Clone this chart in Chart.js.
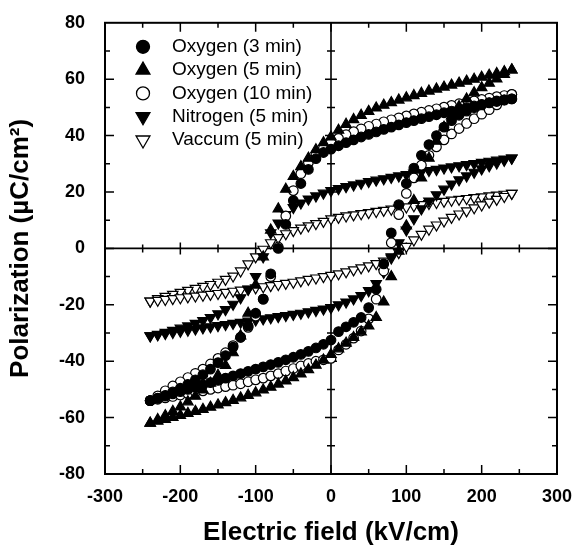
<!DOCTYPE html>
<html>
<head>
<meta charset="utf-8">
<script src="https://cdn.jsdelivr.net/npm/chart.js@4.4.1/dist/chart.umd.min.js"></script>
<style>
  html, body { margin: 0; padding: 0; background: #fff; }
  #wrap { width: 581px; height: 551px; }
</style>
</head>
<body>
<div id="wrap"><canvas id="loopChart" width="581" height="551"></canvas></div>
<script>
// ===== Data: P-E hysteresis loops =====
// field values along the descending branch (+Emax -> -Emax)
const fieldDown = [
  240, 230, 220, 210, 200, 190, 180, 170, 160, 150, 140, 130, 120, 110, 100, 90, 80, 70, 60, 50, 40, 30, 20, 10,
  0, -10, -20, -30, -40, -50, -60, -70, -80, -90, -100, -110, -120, -130, -140, -150, -160, -170, -180, -190,
  -200, -210, -220, -230, -240,
];
// field values along the ascending branch (-Emax -> +Emax)
const fieldUp = [
  -240, -230, -220, -210, -200, -190, -180, -170, -160, -150, -140, -130, -120, -110, -100, -90, -80, -70, -60,
  -50, -40, -30, -20, -10, 0, 10, 20, 30, 40, 50, 60, 70, 80, 90, 100, 110, 120, 130, 140, 150, 160, 170, 180,
  190, 200, 210, 220, 230, 240,
];

const labels = ["Oxygen (3 min)", "Oxygen (5 min)", "Oxygen (10 min)", "Nitrogen (5 min)", "Vaccum (5 min)"];

// Oxygen (3 min)
const oxy3Down = [
  53, 52.6, 52.1, 51.6, 51.1, 50.5, 49.9, 49.3, 48.7, 48.1, 47.4, 46.7, 46, 45.3, 44.6, 43.8, 43, 42.2, 41.3,
  40.4, 39.5, 38.5, 37.5, 36.4, 35.2, 34, 31.8, 28, 23, 17, 8.5, 0, -9, -18, -23, -27.5, -31.5, -35, -38,
  -40.5, -42.8, -44.8, -46.6, -48.2, -49.6, -50.9, -52.1, -53.1, -54,
];
const oxy3Up = [
  -54, -53.2, -52.4, -51.6, -50.8, -50, -49.2, -48.4, -47.6, -46.8, -46, -45.2, -44.4, -43.6, -42.8, -42, -41.2,
  -40.4, -39.5, -38.6, -37.6, -36.5, -35.3, -34, -32.5, -29.5, -27.8, -26.2, -24.5, -21, -14.5, -5.5, 5.5, 15.5,
  23, 28.5, 33, 36.8, 40, 43, 45.3, 47.2, 48.7, 49.9, 50.9, 51.7, 52.3, 52.7, 53,
];

// Oxygen (5 min)
const oxy5Down = [
  63.3, 62.7, 62, 61.4, 60.7, 60, 59.3, 58.6, 57.9, 57.2, 56.5, 55.8, 55, 54.2, 53.4, 52.6, 51.7, 50.8, 49.8,
  48.6, 47.2, 45.7, 44, 41.9, 39.5, 37.5, 35, 32, 29, 25.5, 21, 14, 6.5, -3, -13, -23, -31, -37, -41.5,
  -45, -47.8, -50.2, -52.4, -54.4, -56.2, -57.8, -59.3, -60.7, -62,
];
const oxy5Up = [
  -62, -61.3, -60.6, -59.9, -59.2, -58.5, -57.8, -57.1, -56.3, -55.5, -54.7, -53.9, -53, -52.1, -51.2, -50.2,
  -49.2, -48.1, -47, -45.8, -44.5, -43, -41.4, -39.6, -37.6, -35.6, -33.6, -31.6, -29.6, -27.5, -24.5, -19, -10,
  -1, 8, 17, 25, 32, 38, 43, 47, 50.3, 53, 55.2, 57, 58.6, 60.1, 61.7, 63.3,
];

// Oxygen (10 min)
const oxy10Down = [
  54.6, 54.2, 53.8, 53.3, 52.8, 52.3, 51.8, 51.3, 50.7, 50.1, 49.5, 48.9, 48.3, 47.7, 47, 46.3, 45.6, 44.9,
  44.1, 43.3, 42.4, 41.4, 40.3, 39, 37.5, 35.5, 33.5, 30.5, 26.5, 20.5, 11.5, 0.5, -10, -18, -24, -28, -31.5,
  -34.5, -37, -39, -41, -42.8, -44.3, -45.8, -47.3, -48.8, -50.5, -52.3, -54,
];
const oxy10Up = [
  -54, -53.5, -53, -52.5, -52, -51.5, -51, -50.5, -50, -49.5, -49, -48.5, -48, -47.3, -46.6, -46, -45.2, -44.4,
  -43.5, -42.6, -41.7, -40.8, -40, -39.5, -39, -36, -34, -31.8, -29.3, -25, -18, -8, 2, 12, 19.5, 25, 29.5, 33,
  36, 38.5, 40.6, 42.5, 44.3, 46, 47.6, 49.2, 50.9, 52.7, 54.6,
];

// Nitrogen (5 min)
const nit5Down = [
  32, 31.7, 31.3, 30.9, 30.5, 30.1, 29.7, 29.3, 28.9, 28.5, 28, 27.6, 27.2, 26.7, 26.2, 25.7, 25.2, 24.7, 24.2,
  23.7, 23.1, 22.5, 21.9, 21.2, 20.5, 19.6, 18.6, 17.5, 16.1, 14.5, 12, 9, 5.5, -3, -10, -14.5, -17.5, -19.8,
  -21.7, -23.2, -24.5, -25.6, -26.6, -27.5, -28.3, -29.1, -29.8, -30.5, -31,
];
const nit5Up = [
  -31, -30.6, -30.2, -29.8, -29.4, -29, -28.6, -28.2, -27.8, -27.4, -27, -26.6, -26.2, -25.8, -25.4, -25, -24.6,
  -24.2, -23.8, -23.4, -23, -22.5, -22, -21.5, -21, -20, -19, -17.9, -16.7, -15, -12.5, -8.5, -3, 2, 6.5,
  10.5, 14, 16.8, 19, 21, 22.8, 24.3, 25.7, 27, 28.2, 29.3, 30.3, 31.2, 32,
];

// Vaccum (5 min)
const vac5Down = [
  19.5, 19.2, 18.9, 18.6, 18.3, 18, 17.7, 17.4, 17.1, 16.7, 16.3, 15.9, 15.5, 15.1, 14.7, 14.3, 13.9, 13.5, 13.1,
  12.7, 12.3, 11.9, 11.5, 11, 10.5, 9.6, 8.8, 8, 7.2, 6.3, 5.2, 3.8, 2, -0.3, -3, -5.5, -8, -9.8, -11, -12,
  -12.8, -13.5, -14.2, -14.9, -15.6, -16.3, -17, -17.8, -18.7,
];
const vac5Up = [
  -18.7, -18.4, -18.1, -17.8, -17.5, -17.2, -16.9, -16.6, -16.3, -16, -15.6, -15.2, -14.8, -14.4, -14, -13.6,
  -13.2, -12.8, -12.4, -12, -11.5, -11, -10.5, -10, -9.6, -9, -8.3, -7.6, -6.9, -6.2, -5.4, -4.5, -3.4, -1.5, 0.7,
  3, 5, 6.8, 8.3, 9.7, 11, 12.2, 13.3, 14.4, 15.4, 16.4, 17.4, 18.4, 19.5,
];

// axis ranges / ticks
const xRange = [-300, 300];
const yRange = [-80, 80];
const xMajor = 100, xMinor = 50;
const yMajor = 20, yMinor = 10;

// ===== helpers =====
function loop(down, up) {
  const pts = down.map((p, i) => ({ x: fieldDown[i], y: p }));
  return pts.concat(up.map((p, i) => ({ x: fieldUp[i], y: p })));
}

const styles = [
  { pointStyle: "circle", filled: true, radius: 4.8, rotation: 0 },
  { pointStyle: "triangle", filled: true, radius: 6, rotation: 0 },
  { pointStyle: "circle", filled: false, radius: 4.8, rotation: 0 },
  { pointStyle: "triangle", filled: true, radius: 6, rotation: 180 },
  { pointStyle: "triangle", filled: false, radius: 6, rotation: 180 },
];
const series = [
  loop(oxy3Down, oxy3Up),
  loop(oxy5Down, oxy5Up),
  loop(oxy10Down, oxy10Up),
  loop(nit5Down, nit5Up),
  loop(vac5Down, vac5Up),
];

// ===== Khung + vạch chia (frame, zero lines, inward ticks) =====
const frameTicks = {
  id: "frameTicks",
  beforeDatasetsDraw(chart) {
    const { ctx, chartArea: a } = chart;
    const sx = chart.scales.x, sy = chart.scales.y;
    const x0 = sx.getPixelForValue(0), y0 = sy.getPixelForValue(0);
    ctx.save();
    ctx.strokeStyle = "#000";

    // zero lines
    ctx.lineWidth = 1.6;
    ctx.beginPath();
    ctx.moveTo(a.left, y0); ctx.lineTo(a.right, y0);
    ctx.moveTo(x0, a.top); ctx.lineTo(x0, a.bottom);
    ctx.stroke();

    ctx.lineWidth = 1.5;
    ctx.beginPath();
    for (let v = xRange[0] + xMinor; v < xRange[1]; v += xMinor) {
      const px = sx.getPixelForValue(v);
      const len = v % xMajor === 0 ? 9 : 5;
      ctx.moveTo(px, a.bottom); ctx.lineTo(px, a.bottom - len);
      ctx.moveTo(px, a.top); ctx.lineTo(px, a.top + len);
      if (v !== 0) {
        const c = v % xMajor === 0 ? 6 : 4;
        ctx.moveTo(px, y0 - c); ctx.lineTo(px, y0 + c);
      }
    }
    for (let v = yRange[0] + yMinor; v < yRange[1]; v += yMinor) {
      const py = sy.getPixelForValue(v);
      const len = v % yMajor === 0 ? 9 : 5;
      ctx.moveTo(a.left, py); ctx.lineTo(a.left + len, py);
      ctx.moveTo(a.right, py); ctx.lineTo(a.right - len, py);
      if (v !== 0) {
        const c = v % yMajor === 0 ? 6 : 4;
        ctx.moveTo(x0 - c, py); ctx.lineTo(x0 + c, py);
      }
    }
    ctx.stroke();

    // box
    ctx.lineWidth = 2;
    ctx.strokeRect(a.left, a.top, a.right - a.left, a.bottom - a.top);
    ctx.restore();
  },
};

// ===== Chú thích trong vùng vẽ (legend inside the plot) =====
function drawMarker(ctx, st, x, y, r) {
  ctx.beginPath();
  if (st.pointStyle === "circle") {
    ctx.arc(x, y, r, 0, Math.PI * 2);
  } else {
    const rot = (st.rotation * Math.PI) / 180;
    for (let k = 0; k < 3; k++) {
      const ang = rot + (k * 2 * Math.PI) / 3;
      const px = x + Math.sin(ang) * r, py = y - Math.cos(ang) * r;
      k === 0 ? ctx.moveTo(px, py) : ctx.lineTo(px, py);
    }
    ctx.closePath();
  }
  ctx.fillStyle = st.filled ? "#000" : "#fff";
  ctx.fill();
  ctx.lineWidth = 1.3;
  ctx.strokeStyle = "#000";
  ctx.stroke();
}

const insideLegend = {
  id: "insideLegend",
  afterDatasetsDraw(chart) {
    const { ctx, chartArea: a } = chart;
    ctx.save();
    ctx.font = "19px 'Liberation Sans', Arial, sans-serif";
    ctx.textBaseline = "middle";
    labels.forEach((txt, i) => {
      const y = a.top + 24 + i * 23.3;
      const st = styles[i];
      drawMarker(ctx, st, a.left + 38, y, st.pointStyle === "circle" ? 6.5 : 8);
      ctx.fillStyle = "#000";
      ctx.fillText(txt, a.left + 67, y);
    });
    ctx.restore();
  },
};

// ===== Biểu đồ =====
Chart.defaults.font.family = "'Liberation Sans', Arial, sans-serif";
Chart.defaults.color = "#000";

new Chart(document.getElementById("loopChart"), {
  type: "scatter",
  data: {
    datasets: series.map((pts, i) => ({
      label: labels[i],
      data: pts,
      showLine: false,
      pointStyle: styles[i].pointStyle,
      pointRotation: styles[i].rotation,
      pointRadius: styles[i].radius,
      pointBackgroundColor: styles[i].filled ? "#000" : "#fff",
      pointBorderColor: "#000",
      pointBorderWidth: 1.2,
    })),
  },
  options: {
    responsive: false,
    animation: false,
    devicePixelRatio: 1,
    layout: { padding: { top: 16, right: 24, bottom: 0, left: 0 } },
    plugins: { legend: { display: false }, tooltip: { enabled: false } },
    scales: {
      x: {
        type: "linear",
        min: xRange[0],
        max: xRange[1],
        grid: { display: false },
        border: { display: false },
        ticks: { stepSize: xMajor, padding: 4, maxRotation: 0, font: { size: 18, weight: "bold" } },
        title: {
          display: true,
          text: "Electric field (kV/cm)",
          font: { size: 26, weight: "bold" },
          padding: { top: 0, bottom: 3 },
        },
        afterFit(s) { s.height = 77; },
      },
      y: {
        type: "linear",
        min: yRange[0],
        max: yRange[1],
        grid: { display: false },
        border: { display: false },
        ticks: { stepSize: yMajor, padding: 12, font: { size: 18, weight: "bold" } },
        title: {
          display: true,
          text: "Polarization (µC/cm²)",
          font: { size: 26, weight: "bold" },
          padding: { top: 5, bottom: 0 },
        },
        afterFit(s) { s.width = 105; },
      },
    },
  },
  plugins: [frameTicks, insideLegend],
});
</script>
</body>
</html>
